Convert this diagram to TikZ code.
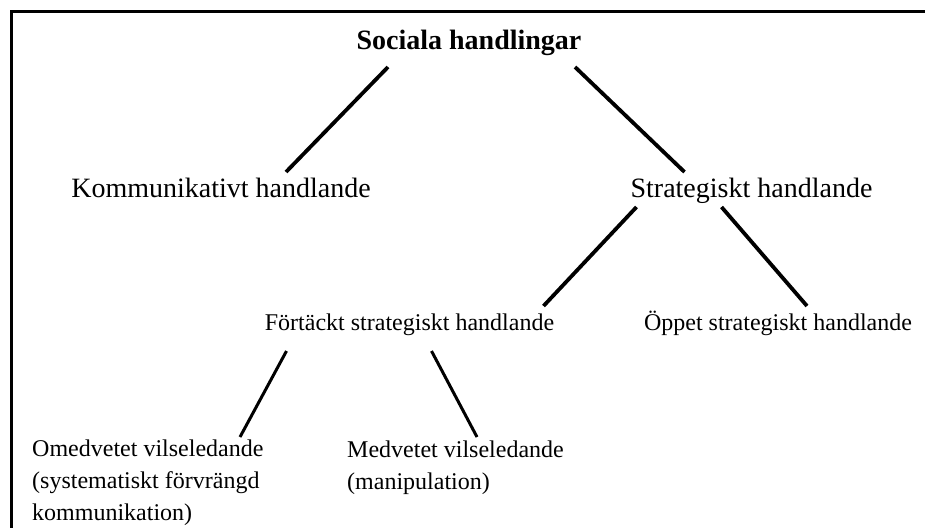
\documentclass[tikz,border=0pt]{standalone}
\usepackage{fontspec}
\setmainfont{Liberation Serif}
\usetikzlibrary{calc}
\begin{document}
\begin{tikzpicture}[x=1pt, y=-1pt,
  bigtext/.style={inner sep=0pt, anchor=base, font=\fontsize{28}{34}\selectfont},
  smalltext/.style={inner sep=0pt, anchor=base, font=\fontsize{24}{32}\selectfont},
  link/.style={line width=3.8pt},
  thinlink/.style={line width=3pt}]
  \useasboundingbox (0, 0) rectangle (925, 528);
  \draw [line width=3.5pt] (925, 11.5) -- (11.5, 11.5) -- (11.5, 528);
  \node [bigtext] (soc) at (469, 49) {\bfseries Sociala handlingar};
  \node [bigtext] (komm) at (221, 197) {Kommunikativt handlande};
  \node [bigtext] (strat) at (751.5, 197) {Strategiskt handlande};
  \node [smalltext] (fort) at (409.5, 330) {Förtäckt strategiskt handlande};
  \node [smalltext] (oppet) at (778, 330) {Öppet strategiskt handlande};
  \node [smalltext, anchor=base west, align=left] (omed) at (32, 520)
    {Omedvetet vilseledande\\(systematiskt förvrängd\\kommunikation)};
  \node [smalltext, anchor=base west, align=left] (medv) at (347, 489)
    {Medvetet vilseledande\\(manipulation)};
  \draw [link] ($(soc.base)+(-81, 18)$) -- ($(komm.base)+(65, -25)$);
  \draw [link] ($(soc.base)+(106, 18)$) -- ($(strat.base)+(-67, -25)$);
  \draw [link] ($(strat.base)+(-115, 10)$) -- ($(fort.base)+(134, -24)$);
  \draw [link] ($(strat.base)+(-30, 10)$) -- ($(oppet.base)+(29, -24)$);
  \draw [thinlink] ($(fort.base)+(-123, 21)$) -- ($(omed.base west)+(208, -83)$);
  \draw [thinlink] ($(fort.base)+(22, 21)$) -- ($(medv.base west)+(130, -52)$);
\end{tikzpicture}
\end{document}
